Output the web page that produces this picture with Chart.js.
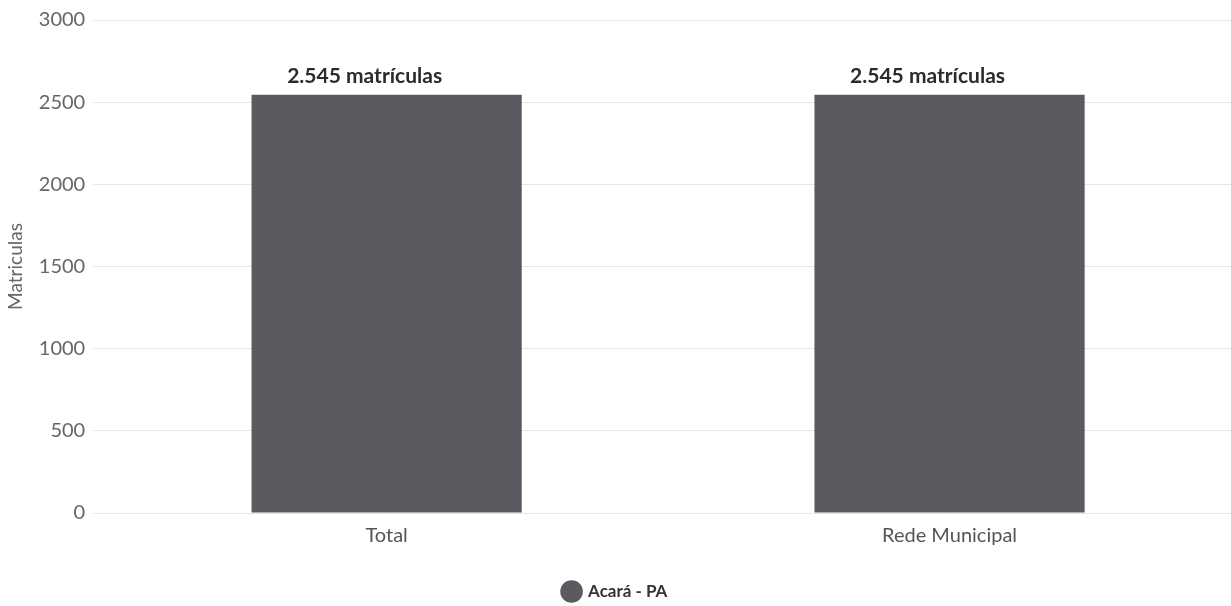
<!DOCTYPE html>
<html lang="pt-BR">
<head>
<meta charset="utf-8">
<title>Matrículas - Acará - PA</title>
<script src="https://cdn.jsdelivr.net/npm/chart.js@4/dist/chart.umd.min.js"></script>
<style>
    html, body { margin: 0; padding: 0; background: #ffffff; }
    #wrap { width: 1231px; height: 606px; position: relative; }
</style>
</head>
<body>
<div id="wrap"><canvas id="chart"></canvas></div>
<script>
// Chart data
const categories = ['Total', 'Rede Municipal'];
const matriculas = [2545, 2545];
const seriesLabel = 'Acará - PA';
const yTicks = [0, 500, 1000, 1500, 2000, 2500, 3000];

const FONT = 'Lato, "Open Sans", sans-serif';

// Draw "2.545 matrículas" above each bar (slightly left of centre, as in the original)
const barLabels = {
    id: 'barLabels',
    afterDatasetsDraw(chart) {
        const ctx = chart.ctx;
        ctx.save();
        ctx.font = 'bold 21px ' + FONT;
        ctx.fillStyle = '#2b2b2b';
        ctx.textAlign = 'center';
        ctx.textBaseline = 'bottom';
        chart.getDatasetMeta(0).data.forEach((bar, i) => {
            const value = chart.data.datasets[0].data[i];
            const text = value.toLocaleString('pt-BR') + ' matrículas';
            ctx.fillText(text, bar.x - 22, bar.y - 8);
        });
        ctx.restore();
    }
};

new Chart(document.getElementById('chart'), {
    type: 'bar',
    data: {
        labels: categories,
        datasets: [{
            label: seriesLabel,
            data: matriculas,
            backgroundColor: '#5a5a60',
            borderWidth: 0,
            categoryPercentage: 0.8,
            barPercentage: 0.6
        }]
    },
    options: {
        responsive: true,
        maintainAspectRatio: false,
        animation: false,
        layout: { padding: { top: 14, right: 0, bottom: -4, left: 0 } },
        plugins: {
            legend: {
                position: 'bottom',
                labels: {
                    usePointStyle: true,
                    pointStyle: 'circle',
                    boxWidth: 16,
                    boxHeight: 16,
                    padding: 32,
                    color: '#333333',
                    font: { family: FONT, size: 17, weight: 'bold' }
                }
            },
            tooltip: { enabled: false }
        },
        scales: {
            x: {
                grid: { display: false },
                border: { display: false },
                ticks: {
                    color: '#555555',
                    padding: 3,
                    font: { family: FONT, size: 20 }
                }
            },
            y: {
                min: 0,
                max: 3000,
                afterBuildTicks(axis) {
                    axis.ticks = yTicks.map(v => ({ value: v }));
                },
                grid: { color: '#e6e6e6', tickLength: 12 },
                border: { display: false },
                ticks: {
                    color: '#666666',
                    padding: 8,
                    font: { family: FONT, size: 20 },
                    callback: value => String(value)
                },
                title: {
                    display: true,
                    text: 'Matriculas',
                    color: '#666666',
                    font: { family: FONT, size: 19 }
                }
            }
        }
    },
    plugins: [barLabels]
});
</script>
</body>
</html>
